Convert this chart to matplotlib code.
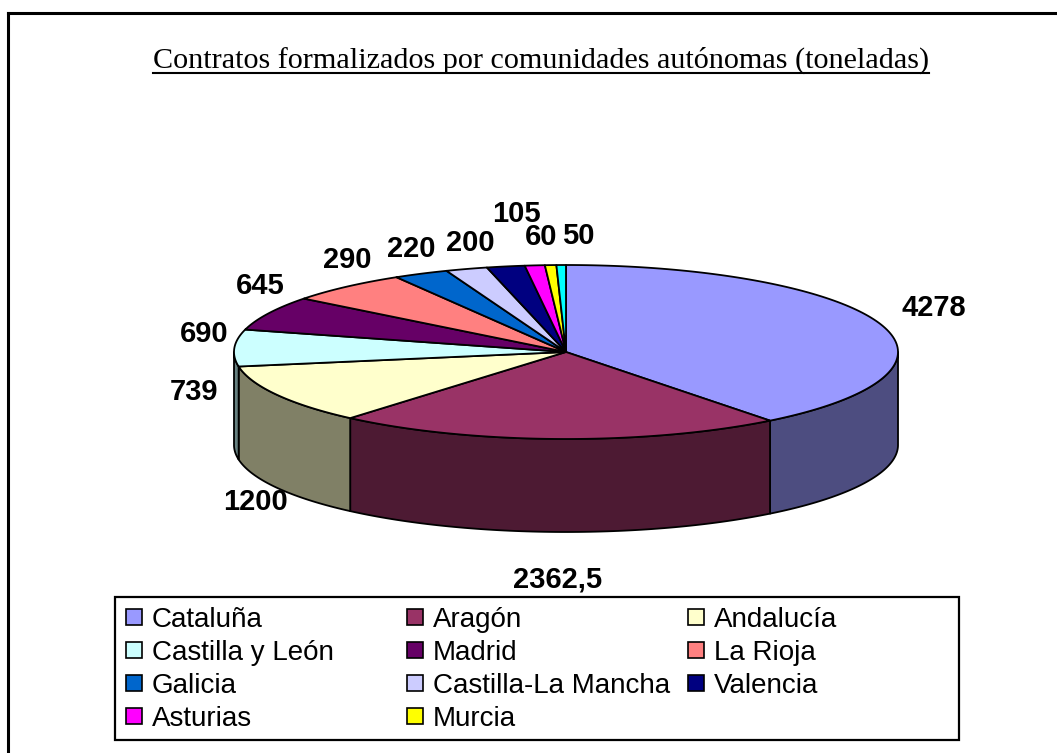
import numpy as np
import matplotlib.pyplot as plt
from matplotlib.patches import Polygon, Rectangle
from matplotlib.colors import to_rgb
from matplotlib.transforms import Bbox

# Datos: contratos por comunidad autónoma (toneladas)
comunidades = ['Cataluña', 'Aragón', 'Andalucía', 'Castilla y León', 'Madrid',
               'La Rioja', 'Galicia', 'Castilla-La Mancha', 'Valencia',
               'Asturias', 'Murcia', '']
toneladas = [4278, 2362.5, 1200, 739, 690, 645, 290, 220, 200, 105, 60, 50]
colores = ['#9999FF', '#993366', '#FFFFCC', '#CCFFFF', '#660066', '#FF8080',
           '#0066CC', '#CCCCFF', '#000080', '#FF00FF', '#FFFF00', '#00FFFF']

titulo = 'Contratos formalizados por comunidades autónomas (toneladas)'

# Geometría de la tarta 3D (en píxeles)
cx, cy = 566, 352
a, b, prof = 332, 87, 93

fig = plt.figure(figsize=(10.57, 7.53), dpi=100)
ax = fig.add_axes([0, 0, 1, 1])
ax.set_xlim(0, 1057)
ax.set_ylim(753, 0)
ax.axis('off')

total = sum(toneladas)
acum = np.concatenate([[0], np.cumsum(toneladas)])
ang = 90 - 360 * acum / total  # grados, sentido horario desde las 12


def elipse(t):
    t = np.radians(t)
    return cx + a * np.cos(t), cy - b * np.sin(t)


def oscuro(c):
    return tuple(0.5 * v for v in to_rgb(c))


# Caras laterales (solo la mitad delantera)
for i, col in enumerate(colores):
    hi = min(ang[i], 0)
    lo = max(ang[i + 1], -180)
    if hi > lo:
        t = np.linspace(hi, lo, 80)
        x, y = elipse(t)
        xs = np.concatenate([x, x[::-1]])
        ys = np.concatenate([y, y[::-1] + prof])
        ax.add_patch(Polygon(np.column_stack([xs, ys]), closed=True,
                             facecolor=oscuro(col), edgecolor='black',
                             linewidth=1.3, joinstyle='round'))

# Cara superior
for i, col in enumerate(colores):
    t = np.linspace(ang[i], ang[i + 1], 120)
    x, y = elipse(t)
    pts = np.vstack([[cx, cy], np.column_stack([x, y])])
    ax.add_patch(Polygon(pts, closed=True, facecolor=col, edgecolor='black',
                         linewidth=1.3, joinstyle='round'))

# Etiquetas de datos
fig.canvas.draw()
renderer = fig.canvas.get_renderer()


def caja(txt):
    bb = txt.get_window_extent(renderer)
    return Bbox.from_extents(bb.x0 + 3, bb.y0 + 7, bb.x1 - 3, bb.y1 - 7)


textos, cajas = [], []
for i, v in enumerate(toneladas):
    m = np.radians((ang[i] + ang[i + 1]) / 2)
    c, s = np.cos(m), np.sin(m)
    if s >= 0:
        x = cx + (a + 40 + 160 * s ** 2) * c
        y = cy - 1.6 * b * s + prof / 2 * (1 - c) / 2
    else:
        x = cx + (a + 25) * c
        y = cy - 1.76 * b * s + prof / 2 + 28
    etiqueta = f'{v:g}'.replace('.', ',')
    txt = ax.text(x, y, etiqueta, ha='center', va='center', fontsize=21,
                  fontweight='bold', family='Liberation Sans')
    bb = caja(txt)
    if cajas and bb.overlaps(cajas[-1]):
        ant = textos[-1]
        ant.set_y(ant.get_position()[1] - 25)
        bb_ant = caja(ant)
        if len(cajas) > 1 and bb_ant.overlaps(cajas[-2]):
            ant.set_y(ant.get_position()[1] + 25)
            txt.set_x(x + cajas[-1].x1 - bb.x0 + 10)
            bb = caja(txt)
        else:
            cajas[-1] = bb_ant
    textos.append(txt)
    cajas.append(bb)

# Título subrayado
tt = ax.text(541, 68, titulo, ha='center', va='baseline', fontsize=21.7,
             family='Liberation Serif')
bb = tt.get_window_extent(renderer)
ax.plot([bb.x0, bb.x1], [73, 73], color='black', linewidth=1.5)

# Leyenda (3 columnas, por filas)
ax.add_patch(Rectangle((115, 597), 844, 143, facecolor='white',
                       edgecolor='black', linewidth=1.6))
nombres = [(n, c) for n, c in zip(comunidades, colores) if n]
for k, (n, c) in enumerate(nombres):
    fila, colm = divmod(k, 3)
    mx = 126 + colm * 281
    my = 617 + fila * 33
    ax.add_patch(Rectangle((mx, my - 8), 16, 16, facecolor=c,
                           edgecolor='black', linewidth=1.2))
    ax.text(mx + 26, my + 10, n, ha='left', va='baseline', fontsize=20,
            family='Liberation Sans')

# Borde exterior del gráfico
ax.plot([8, 8], [800, 13], color='black', linewidth=2.2, solid_capstyle='projecting')
ax.plot([8, 1100], [13, 13], color='black', linewidth=2.2, solid_capstyle='projecting')

fig.savefig('out.png', dpi=100)
